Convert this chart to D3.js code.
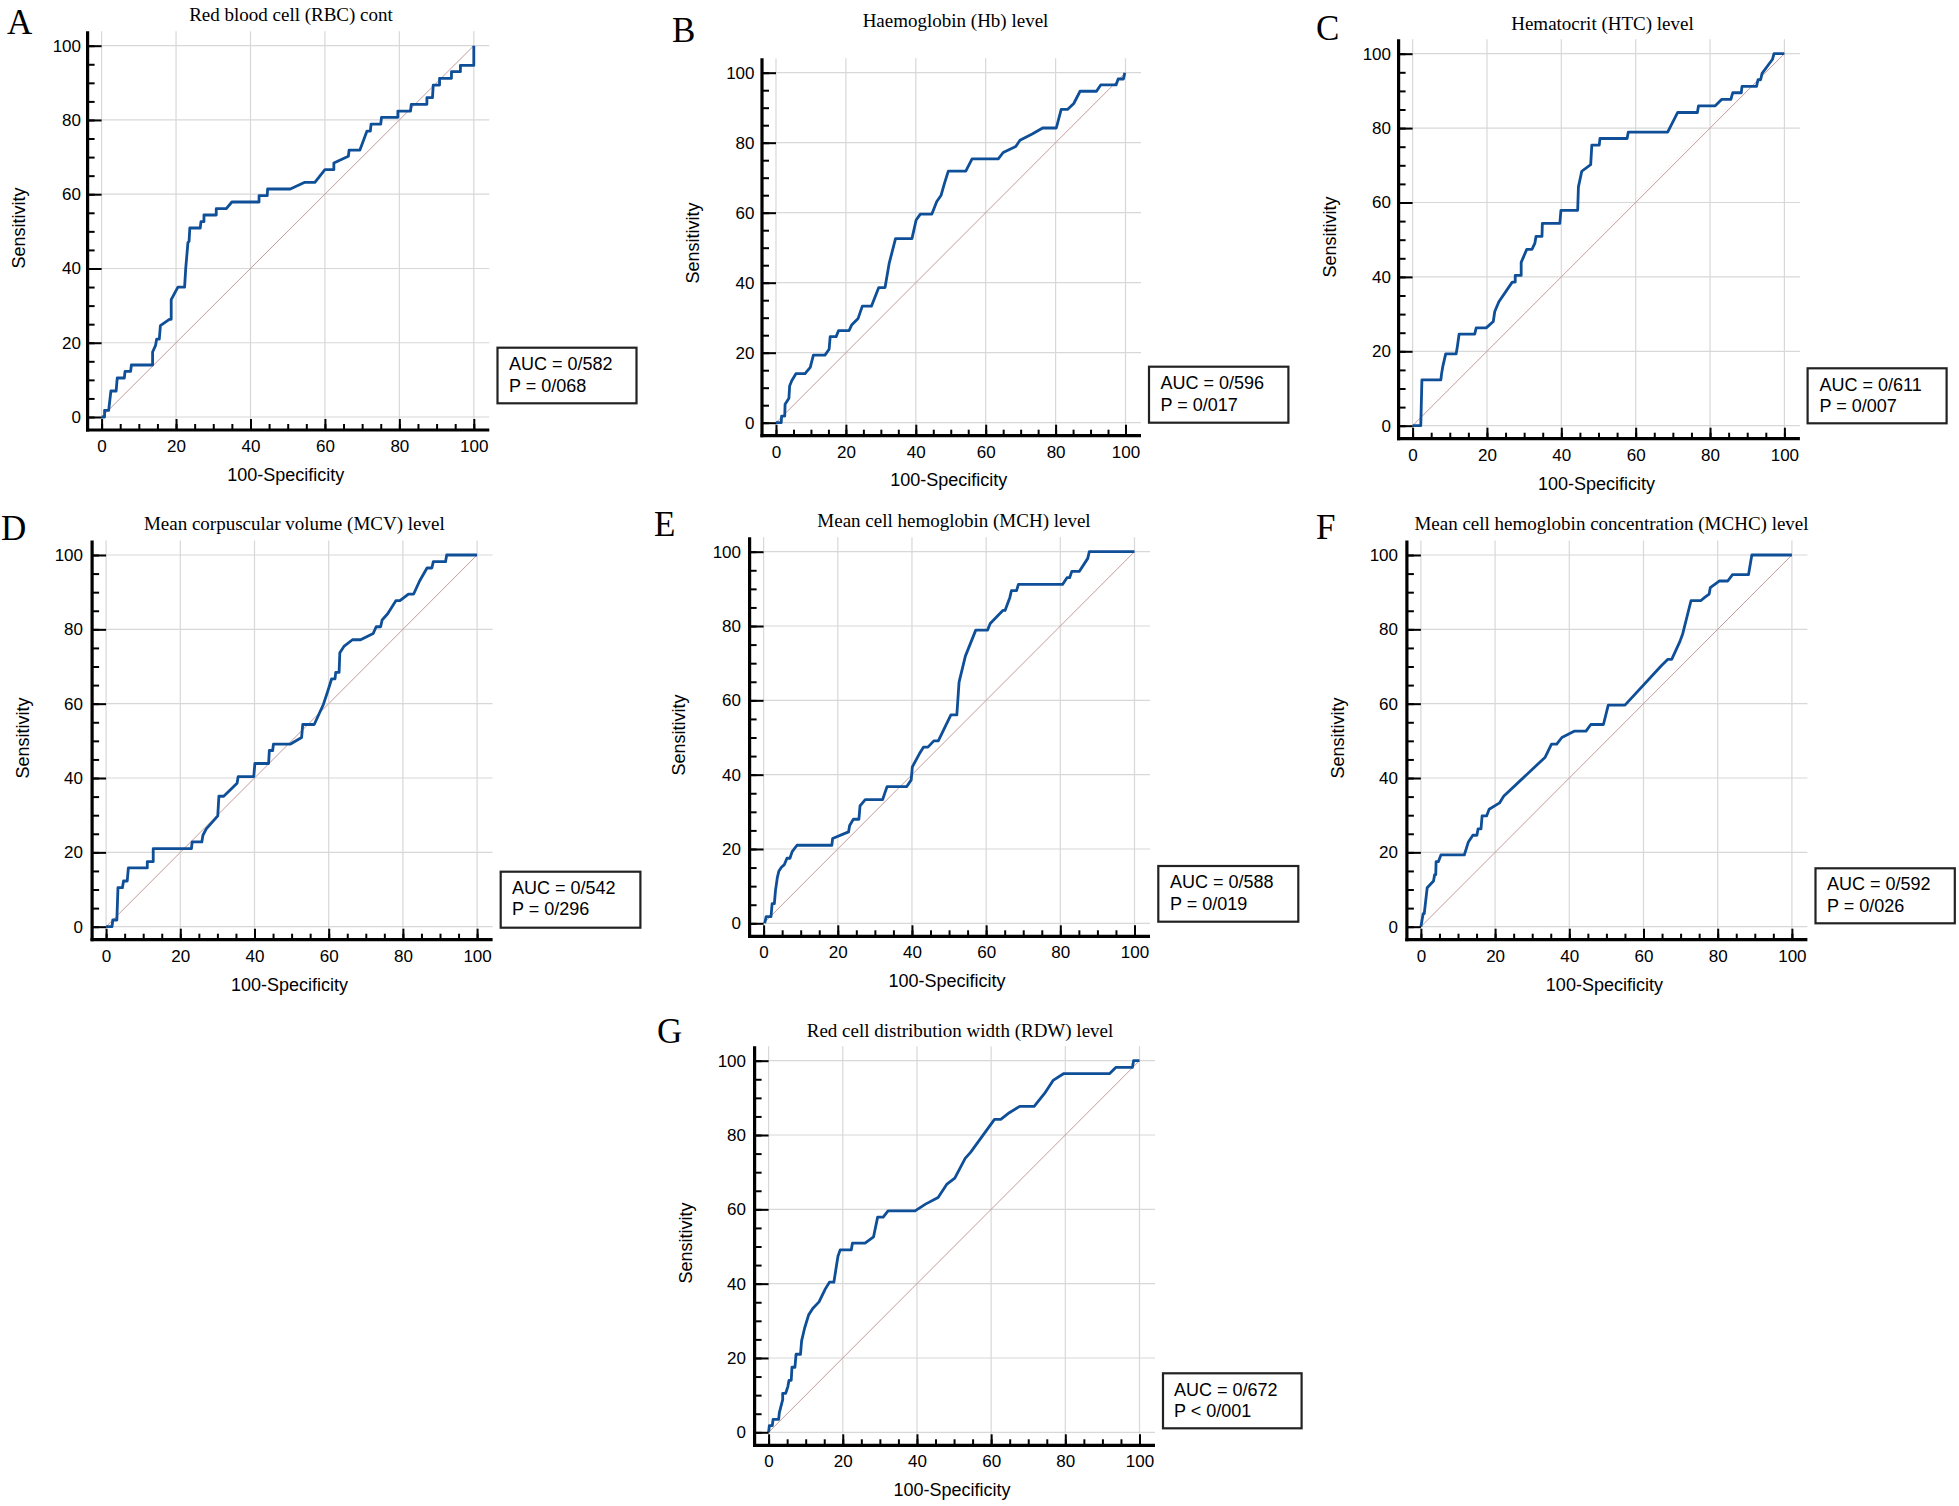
<!DOCTYPE html>
<html><head><meta charset="utf-8">
<script src="https://cdn.jsdelivr.net/npm/d3@7"></script>
<style>
html,body{margin:0;padding:0;background:#fff;}
svg{display:block;}
</style></head>
<body>
<svg id="chart" width="1959" height="1506"></svg>
<script>
// ---------------- DATA ----------------
const panelLetters = ["A","B","C","D","E","F","G"];
const panelTitles = [
  "Red blood cell (RBC) cont",
  "Haemoglobin (Hb) level",
  "Hematocrit (HTC) level",
  "Mean corpuscular volume (MCV) level",
  "Mean cell hemoglobin (MCH) level",
  "Mean cell hemoglobin concentration (MCHC) level",
  "Red cell distribution width (RDW) level"
];
const aucLabels = ["AUC = 0/582","AUC = 0/596","AUC = 0/611","AUC = 0/542","AUC = 0/588","AUC = 0/592","AUC = 0/672"];
const pLabels   = ["P = 0/068","P = 0/017","P = 0/007","P = 0/296","P = 0/019","P = 0/026","P < 0/001"];
const xAxisTitle = "100-Specificity";
const yAxisTitle = "Sensitivity";
const majorTicks = [0,20,40,60,80,100];
const minorTicks = [0,5,10,15,20,25,30,35,40,45,50,55,60,65,70,75,80,85,90,95,100];

// ROC curves: [100-Specificity, Sensitivity]
const rocA = [[0,0],[0.8,0],[0.8,1.8],[1.9,1.8],[2.5,7],[3.9,7],[4.2,10.5],[6.1,10.5],[6.3,12.3],[7.8,12.3],[8,14],[13.7,14],[13.7,17.5],[14.5,19.3],[14.8,21],[15.5,21],[15.8,24.6],[18.2,26.3],[18.7,26.3],[18.7,31.6],[20.5,35],[22.3,35],[22.6,40],[23.2,47],[23.5,47.3],[23.7,50.9],[26.5,50.9],[26.7,52.6],[27.5,52.6],[27.5,54.4],[30.8,54.4],[30.8,56.1],[33.5,56.1],[35,57.9],[42.3,57.9],[42.3,59.6],[44.5,59.6],[44.6,61.4],[50.7,61.4],[54.6,63.2],[57.3,63.2],[60,66.6],[62.4,66.6],[62.4,68.4],[66.3,70.2],[66.5,71.9],[69.4,71.9],[71.3,77],[72.2,77],[72.4,78.9],[75,78.9],[75.2,80.7],[79.6,80.7],[79.6,82.4],[83,82.4],[83.2,84.2],[87.4,84.2],[87.4,86],[88.9,86],[89.1,89.4],[90.8,89.4],[90.8,91.2],[94,91.2],[94,93],[96.4,93],[96.4,94.7],[100,94.7],[100,100]];
const rocB = [[0,0],[1.5,0],[1.6,1.9],[2.5,1.9],[2.6,5.3],[3.7,7],[3.9,10.5],[4.5,12],[5.7,14],[8.3,14],[9.8,15.8],[10.7,19.3],[14,19.3],[15.2,21],[15.5,24.6],[17.2,24.6],[17.9,26.3],[20.9,26.3],[21.7,28],[23.5,29.8],[24.7,33.3],[27.3,33.3],[29.4,38.6],[31.2,38.6],[32.4,45.6],[34.2,52.6],[38.9,52.6],[40.1,57.9],[41.3,59.6],[44.6,59.6],[46,63.2],[47.2,64.9],[48.2,68.4],[49.3,71.9],[54.3,71.9],[56.1,75.4],[63.6,75.4],[65,77.2],[68.6,78.9],[69.8,80.7],[73.3,82.5],[76.3,84.2],[80.2,84.2],[81.6,89.5],[83.4,89.5],[85.2,91.2],[87,94.7],[91.7,94.7],[92.9,96.5],[97.3,96.5],[97.9,98.2],[99.4,98.2],[99.8,100]];
const rocC = [[0,0],[2.2,0],[2.5,12.3],[7.6,12.3],[7.8,14],[8.1,15.8],[8.9,19.3],[11.7,19.3],[12,21],[12.5,24.6],[16.7,24.6],[17.1,26.3],[19.8,26.3],[21.7,28],[22.1,30.7],[23.2,33.3],[26.8,38.6],[27.6,38.6],[27.6,40.4],[29.2,40.4],[29.2,43.9],[30.7,47.4],[32.1,47.4],[32.9,49.1],[33.2,50.9],[34.8,50.9],[34.9,54.4],[39.6,54.4],[39.9,57.9],[44.4,57.9],[44.6,64.2],[45.5,68.4],[47.9,70.2],[48.2,75.4],[50.2,75.4],[50.4,77.2],[57.7,77.2],[58,78.9],[68.6,78.9],[71.3,84.2],[76.6,84.2],[76.9,86],[81.4,86],[83.1,87.7],[85.6,87.7],[86.1,89.5],[88.4,89.5],[88.6,91.2],[92.5,91.2],[92.9,93],[93.6,93],[94,94.7],[96.8,98.5],[97.2,100],[100,100]];
const rocD = [[0,0],[1.6,0],[1.8,1.8],[2.9,1.8],[3.2,10.5],[4.4,10.5],[4.7,12.3],[5.7,12.3],[6,15.8],[11.1,15.8],[11.1,17.5],[12.7,17.5],[12.7,21],[23,21],[23.2,22.8],[25.8,22.8],[26.1,24.6],[27,26.3],[30.1,29.8],[30.4,35.1],[31.7,35.1],[35.3,38.6],[35.6,40.4],[39.8,40.4],[40.1,43.9],[43.8,43.9],[44,47.4],[44.9,47.4],[45.1,49.1],[49.6,49.1],[52.7,50.9],[53,54.4],[56.1,54.4],[57.7,57.9],[58.5,59.6],[59.7,63.2],[60.8,66.7],[61.7,66.7],[61.9,68.4],[62.8,68.4],[63,73.7],[64.1,75.4],[66.4,77.2],[68.6,77.2],[72,78.9],[72.8,80.7],[74,80.7],[74.4,82.5],[75.9,84.2],[78.1,87.7],[79.2,87.7],[81.5,89.5],[82.9,89.5],[84.5,93],[86.5,96.5],[87.8,96.5],[88.2,98.2],[91.5,98.2],[91.8,100],[100,100]];
const rocE = [[0.3,0],[0.7,1.8],[2,1.8],[2.3,5.3],[2.9,5.3],[3.2,8.8],[3.7,12.3],[4.1,14],[4.8,15.1],[5.6,15.8],[6.3,17.5],[7.1,17.5],[7.7,19.3],[9,21],[18.4,21],[18.6,22.8],[22.9,24.6],[23.2,26.3],[24.2,28],[25.7,28],[26,31.6],[27.4,33.3],[32.1,33.3],[32.7,35.1],[33.3,36.8],[38.6,36.8],[39.8,38.6],[40.1,42.1],[42,45.6],[43.1,47.4],[44.3,47.4],[45.9,49.1],[47.1,49.1],[50.5,56.1],[52.1,56.1],[52.7,64.9],[54.4,71.9],[57.2,78.9],[60.4,78.9],[61.1,80.7],[64.5,84.2],[65.1,84.2],[66.4,87.7],[66.8,89.5],[68.2,89.5],[68.7,91.2],[80.6,91.2],[81.8,93],[82.5,93],[83.1,94.7],[85.1,94.7],[87.4,98.2],[87.8,100],[100,100]];
const rocF = [[0,0],[0.6,3.5],[0.9,3.5],[1.3,7],[1.7,10.5],[3.4,12.3],[3.7,14],[4,14],[4.1,17.5],[4.7,17.5],[5.4,19.3],[11.7,19.3],[12.8,22.8],[14,24.6],[15.1,24.6],[15.4,26.3],[16.2,26.3],[16.5,29.8],[17.7,29.8],[18.4,31.6],[21.2,33.3],[22.3,35.1],[33.5,45.6],[35.2,49.1],[36.6,49.1],[38,50.9],[41.3,52.6],[44.5,52.6],[45.8,54.4],[49.2,54.4],[50.5,59.6],[55,59.6],[64.8,70.2],[66.5,71.9],[67.6,71.9],[69.8,76.7],[70.6,78.9],[72.8,87.7],[75.4,87.7],[76.5,88.6],[77.7,89.5],[78,91.2],[80.4,93],[82.7,93],[84,94.7],[88.3,94.7],[89.2,100],[100,100]];
const rocG = [[0,0],[0.2,1.8],[1,1.8],[1.2,3.5],[2.7,3.5],[2.9,5.3],[3.8,8.8],[3.8,10.5],[4.6,10.5],[5.2,12.3],[5.5,14],[6.1,14],[6.3,17.5],[7.1,17.5],[7.4,21],[8.6,21],[8.9,24.6],[9.7,28],[10.8,31.6],[11.9,33.3],[13.6,35.1],[15.3,38.6],[16.4,40.4],[17.6,40.4],[18.7,47.4],[19.3,49.1],[22.3,49.1],[22.6,50.9],[26,50.9],[28.3,52.6],[29.4,57.9],[30.9,57.9],[32.2,59.6],[39.5,59.6],[42.3,61.4],[45.7,63.2],[48,66.7],[50.2,68.4],[53,73.7],[54.5,75.4],[60.9,84.2],[62.6,84.2],[64.9,86],[67.7,87.7],[71.6,87.7],[74.4,91.2],[76.7,94.7],[79.5,96.5],[91.9,96.5],[93.6,98.2],[98.1,98.2],[98.4,100],[100,100]];
const rocSeries = [rocA, rocB, rocC, rocD, rocE, rocF, rocG];

// ---------------- LAYOUT (pixel positions) ----------------
const layout = [
  {x0:101.6, x100:473.8, y0:417.0, y100:45.7, titleX:291, titleY:21, letX:7, letY:33.5, ytX:81, xtY:481, ylX:19, ylY:228, box:[497.5,347.7,139,55.6], aucX:509, aucY1:370, aucY2:392},
  {x0:776.0, x100:1125.5, y0:422.7, y100:72.7, titleX:955.5, titleY:26.5, letX:672, letY:41.5, ytX:754.5, xtY:486, ylX:693, ylY:243, box:[1149,366.7,139.4,56], aucX:1160.5, aucY1:388.5, aucY2:410.5},
  {x0:1412.6, x100:1784.4, y0:425.7, y100:53.7, titleX:1602.5, titleY:30, letX:1316, letY:39.5, ytX:1391, xtY:489.5, ylX:1330, ylY:237, box:[1807.6,368.3,139,55], aucX:1819.5, aucY1:390.5, aucY2:411.5},
  {x0:106.1, x100:477.1, y0:926.7, y100:555.0, titleX:294.3, titleY:530, letX:1, letY:540, ytX:83, xtY:991, ylX:23, ylY:738, box:[500.7,871.7,139.7,56], aucX:512, aucY1:893.5, aucY2:915},
  {x0:763.6, x100:1134.5, y0:923.3, y100:551.7, titleX:954, titleY:527, letX:654, letY:535.5, ytX:741, xtY:987, ylX:679, ylY:735, box:[1158.3,866,140,55.7], aucX:1170, aucY1:888, aucY2:909.5},
  {x0:1420.9, x100:1791.9, y0:926.7, y100:555.0, titleX:1611.5, titleY:530, letX:1316, letY:539, ytX:1398, xtY:991, ylX:1338, ylY:738, box:[1815.5,868.3,139.3,55], aucX:1827, aucY1:890, aucY2:912},
  {x0:768.6, x100:1139.5, y0:1432.3, y100:1060.7, titleX:960, titleY:1036.5, letX:657, letY:1042.5, ytX:746, xtY:1496, ylX:685.5, ylY:1243, box:[1163,1373.3,138.6,55], aucX:1174, aucY1:1396, aucY2:1417}
];

// ---------------- DRAW ----------------
const SANS = "'Liberation Sans', Arial, sans-serif";
const SERIF = "'Liberation Serif', 'Times New Roman', serif";
const svg = d3.select("#chart");
svg.append("rect").attr("width",1959).attr("height",1506).attr("fill","#fff");

function drawPanel(i){
  const L = layout[i];
  const data = rocSeries[i];
  const x = d3.scaleLinear().domain([0,100]).range([L.x0, L.x100]);
  const y = d3.scaleLinear().domain([0,100]).range([L.y0, L.y100]);
  const axX = L.x0 - 14;
  const axY = L.y0 + 13;
  const top = L.y100 - 14.5;
  const right = L.x100 + 15.5;
  const g = svg.append("g");

  // grid
  g.selectAll("line.vg").data(majorTicks).join("line").attr("class","vg")
    .attr("x1",d=>x(d)).attr("x2",d=>x(d)).attr("y1",top).attr("y2",axY)
    .attr("stroke","#d8d8d8").attr("stroke-width",1.2);
  g.selectAll("line.hg").data(majorTicks).join("line").attr("class","hg")
    .attr("x1",axX).attr("x2",right).attr("y1",d=>y(d)).attr("y2",d=>y(d))
    .attr("stroke","#d8d8d8").attr("stroke-width",1.2);

  // diagonal reference
  g.append("line").attr("x1",x(0)).attr("y1",y(0)).attr("x2",x(100)).attr("y2",y(100))
    .attr("stroke","#c79a9a").attr("stroke-width",1);

  // ROC curve
  g.append("path").datum(data)
    .attr("d", d3.line().x(d=>x(d[0])).y(d=>y(d[1])))
    .attr("fill","none").attr("stroke","#0e4f98").attr("stroke-width",2.8)
    .attr("stroke-linejoin","round");

  const styleAxis = sel => {
    sel.select(".domain").remove();
    sel.selectAll(".tick line").attr("stroke","#000").attr("stroke-width",2);
    sel.selectAll(".tick text").attr("font-family",SANS).attr("font-size",17).attr("fill","#000");
  };
  // x axis ticks (inward)
  g.append("g").attr("transform",`translate(0,${axY})`)
    .call(d3.axisBottom(x).tickValues(minorTicks).tickSize(-6).tickFormat(""))
    .call(styleAxis);
  g.append("g").attr("transform",`translate(0,${axY})`)
    .call(d3.axisBottom(x).tickValues(majorTicks).tickSize(-11).tickPadding(10).tickFormat(d3.format("d")))
    .call(styleAxis);
  // y axis ticks (inward)
  g.append("g").attr("transform",`translate(${axX},0)`)
    .call(d3.axisLeft(y).tickValues(minorTicks).tickSize(-7).tickFormat(""))
    .call(styleAxis);
  g.append("g").attr("transform",`translate(${axX},0)`)
    .call(d3.axisLeft(y).tickValues(majorTicks).tickSize(-14).tickPadding(axX - L.ytX).tickFormat(d3.format("d")))
    .call(styleAxis);

  // axis lines
  g.append("line").attr("x1",axX).attr("x2",axX).attr("y1",top).attr("y2",axY+1.6)
    .attr("stroke","#000").attr("stroke-width",3.2);
  g.append("line").attr("x1",axX-1.6).attr("x2",right).attr("y1",axY).attr("y2",axY)
    .attr("stroke","#000").attr("stroke-width",3.2);

  // axis titles
  g.append("text").attr("x",(L.x0+L.x100)/2 - 2).attr("y",L.xtY)
    .attr("text-anchor","middle").attr("font-family",SANS).attr("font-size",18).attr("fill","#000")
    .text(xAxisTitle);
  g.append("text").attr("transform",`translate(${L.ylX+6},${L.ylY}) rotate(-90)`)
    .attr("text-anchor","middle").attr("font-family",SANS).attr("font-size",18).attr("fill","#000")
    .text(yAxisTitle);

  // panel title and letter
  g.append("text").attr("x",L.titleX).attr("y",L.titleY)
    .attr("text-anchor","middle").attr("font-family",SERIF).attr("font-size",19).attr("fill","#000")
    .text(panelTitles[i]);
  g.append("text").attr("x",L.letX).attr("y",L.letY)
    .attr("font-family",SERIF).attr("font-size",35).attr("fill","#000")
    .text(panelLetters[i]);

  // AUC box
  g.append("rect").attr("x",L.box[0]).attr("y",L.box[1]).attr("width",L.box[2]).attr("height",L.box[3])
    .attr("fill","#fff").attr("stroke","#222").attr("stroke-width",2.2);
  g.append("text").attr("x",L.aucX).attr("y",L.aucY1)
    .attr("font-family",SANS).attr("font-size",18).attr("fill","#000").text(aucLabels[i]);
  g.append("text").attr("x",L.aucX).attr("y",L.aucY2)
    .attr("font-family",SANS).attr("font-size",18).attr("fill","#000").text(pLabels[i]);
}

panelLetters.forEach((_, i) => drawPanel(i));
</script>
</body></html>
